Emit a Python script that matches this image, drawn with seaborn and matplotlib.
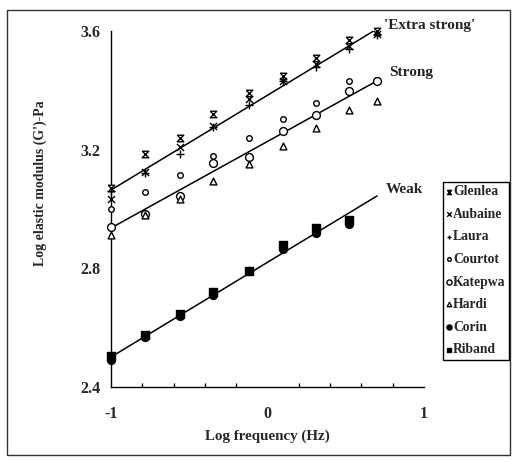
import numpy as np
import pandas as pd
import matplotlib
matplotlib.use("Agg")
import matplotlib.pyplot as plt
from matplotlib.path import Path
from matplotlib.patches import Rectangle
from matplotlib.ticker import MultipleLocator
import seaborn as sns

sns.set_theme(style="white")
plt.rcParams["font.family"] = ["Liberation Serif", "DejaVu Serif"]
plt.rcParams["font.weight"] = "bold"

# log frequency (Hz) at which G' was measured
log_freq = [-1.0, -0.78, -0.56, -0.35, -0.12, 0.10, 0.31, 0.52, 0.70]

# log G' (Pa) for each variety
glenlea = [3.07, 3.185, 3.24, 3.32, 3.39, 3.45, 3.51, 3.57, 3.60]
aubaine = [3.035, 3.125, 3.21, 3.28, 3.37, 3.43, 3.49, 3.55, 3.59]
laura = [3.06, 3.12, 3.185, 3.275, 3.35, 3.43, 3.48, 3.54, 3.585]
courtot = [3.00, 3.057, 3.115, 3.18, 3.24, 3.305, 3.357, 3.432, 3.435]
katepwa = [2.94, 2.983, 3.045, 3.155, 3.175, 3.263, 3.317, 3.398, 3.43]
hardi = [2.912, 2.98, 3.035, 3.094, 3.152, 3.212, 3.273, 3.334, 3.364]
corin = [2.49, 2.57, 2.64, 2.71, 2.79, 2.865, 2.92, 2.95]
riband = [2.505, 2.575, 2.645, 2.72, 2.79, 2.88, 2.935, 2.963]

# fitted lines for each strength class
fit_x = [-1.0, 0.70]
fit_extra_strong = [3.064, 3.607]
fit_strong = [2.936, 3.432]
fit_weak = [2.501, 3.044]

# hourglass marker
hourglass = Path([(-1, 1), (1, 1), (-1, -1), (1, -1), (-1, 1)],
                 [Path.MOVETO, Path.LINETO, Path.LINETO, Path.LINETO, Path.LINETO])

varieties = [
    ("Glenlea", glenlea, hourglass, "white", 22),
    ("Aubaine", aubaine, "x", None, 26),
    ("Laura", laura, "+", None, 30),
    ("Courtot", courtot, "o", "white", 16),
    ("Katepwa", katepwa, "o", "white", 32),
    ("Hardi", hardi, "^", "white", 24),
    ("Corin", corin, "o", "black", 32),
    ("Riband", riband, "s", "black", 28),
]

fig = plt.figure(figsize=(5.15, 4.62), dpi=100)
ax = fig.add_axes([111 / 515, 75 / 462, 313 / 515, 356 / 462])

fits = pd.DataFrame({
    "x": fit_x * 3,
    "y": fit_extra_strong + fit_strong + fit_weak,
    "group": ["Extra strong"] * 2 + ["Strong"] * 2 + ["Weak"] * 2,
})
sns.lineplot(data=fits, x="x", y="y", units="group", estimator=None,
             color="black", linewidth=1.1, ax=ax, zorder=2, legend=False)

handles = []
for name, vals, marker, face, size in varieties:
    df = pd.DataFrame({"x": log_freq[:len(vals)], "y": vals})
    if face is None:
        sns.scatterplot(data=df, x="x", y="y", marker=marker, s=size,
                        color="black", linewidth=1.0, ax=ax, zorder=3)
    else:
        sns.scatterplot(data=df, x="x", y="y", marker=marker, s=size,
                        facecolor=face, edgecolor="black", linewidth=1.0,
                        ax=ax, zorder=3)
    handles.append(ax.collections[-1])

for c in ax.collections:
    c.set_clip_on(False)

ax.set_xlim(-1, 1)
ax.set_ylim(2.4, 3.6)
ax.set_xticks([-1, 0, 1])
ax.set_xticklabels(["-1", "0", "1"])
ax.xaxis.set_minor_locator(MultipleLocator(0.2))
ax.set_yticks([2.4, 2.8, 3.2, 3.6])
ax.set_yticklabels(["2.4", "2.8", "3.2", "3.6"])

for side in ["top", "right"]:
    ax.spines[side].set_visible(False)
for side in ["left", "bottom"]:
    ax.spines[side].set_color("black")
    ax.spines[side].set_linewidth(1.0)

ax.tick_params(axis="both", which="major", direction="inout", length=7,
               width=1.0, color="black", labelsize=11.5, pad=4)
ax.tick_params(axis="x", which="major", pad=10)
ax.tick_params(axis="x", which="minor", direction="in", length=3,
               width=1.0, color="black", bottom=True)
for lab in ax.get_xticklabels() + ax.get_yticklabels():
    lab.set_fontweight("bold")

ax.set_xlabel("Log frequency (Hz)", fontsize=10.8, fontweight="bold")
ax.xaxis.set_label_coords(267 / 515, 1 - 430 / 462, transform=fig.transFigure)
ax.set_ylabel("Log elastic modulus (G')-Pa", fontsize=10, fontweight="bold")
ax.yaxis.set_label_coords(47 / 515, 1 - 183 / 462, transform=fig.transFigure)

ax.text(0.744, 3.62, "'Extra strong'", fontsize=11, fontweight="bold",
        ha="left", va="center", clip_on=False)
ax.text(0.776, 3.46, "Strong", fontsize=11, fontweight="bold",
        ha="left", va="center", clip_on=False)
ax.text(0.756, 3.067, "Weak", fontsize=11, fontweight="bold",
        ha="left", va="center", clip_on=False)

leg = fig.legend(handles, [v[0] for v in varieties],
                 loc="upper left", bbox_to_anchor=(443 / 515, 1 - 182 / 462),
                 frameon=True, fancybox=False, framealpha=1, edgecolor="black",
                 prop={"family": "Liberation Serif", "weight": "bold", "size": 9.8},
                 markerscale=0.65, handletextpad=0.05, handlelength=0.45,
                 borderpad=0.25, labelspacing=0.7, borderaxespad=0)
leg.get_frame().set_linewidth(1.0)

# outer frame
fig.patches.append(Rectangle((7 / 515, 7 / 462), 503 / 515, 445 / 462,
                             transform=fig.transFigure, fill=False,
                             edgecolor="#333333", linewidth=1.0))

fig.savefig("out.png", dpi=100)
